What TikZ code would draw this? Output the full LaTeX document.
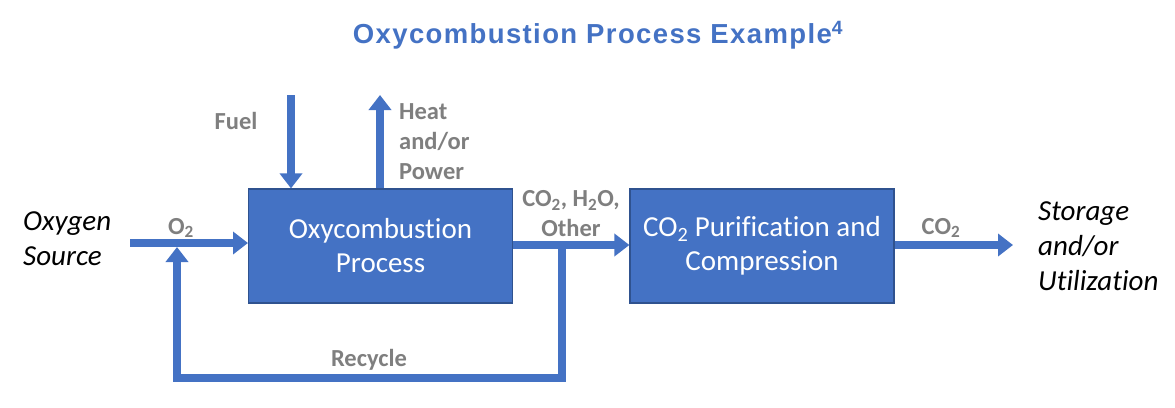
\documentclass[tikz,border=0pt]{standalone}
\usepackage{fontspec}
\setmainfont[Ligatures=NoCommon]{Carlito}
\newfontfamily\titlefont[LetterSpace=5]{Liberation Sans}
\usetikzlibrary{arrows.meta}
\definecolor{cblue}{HTML}{4472C4}
\definecolor{cborder}{HTML}{2F528F}
\definecolor{cgray}{HTML}{7F7F7F}
\tikzset{
  procbox/.style={draw=cborder, line width=1.2pt, fill=cblue, text=white, minimum width=264pt, minimum height=114pt, align=center, inner sep=0pt, font=\fontsize{29}{34}\selectfont},
  flow/.style={draw=cblue, line width=7.5pt, -{Triangle[width=22pt,length=15pt]}},
  glabel/.style={text=cgray, font=\fontsize{24.5}{30}\selectfont\bfseries, inner sep=0pt},
  ilabel/.style={text=black, font=\fontsize{29}{35}\selectfont\itshape, inner sep=0pt, align=left},
}
\begin{document}
\begin{tikzpicture}[x=1pt,y=-1pt]
\useasboundingbox (0,0) rectangle (1175,407);
\node[text=cblue, font=\titlefont\fontsize{27.5}{30}\selectfont\bfseries, inner sep=0pt] (title) at (598,35) {Oxycombustion Process Example\textsuperscript{4}};
\node[procbox] (b1) at (380.5,246) {Oxycombustion\\Process};
\node[procbox] (b2) at (762,246) {CO\textsubscript{2} Purification and\\Compression};
\coordinate (fuelTop) at (291,95);
\coordinate (heatTop) at (380,95);
\coordinate (o2start) at (130,243);
\coordinate (o2end) at (248,243);
\coordinate (split) at (562,245);
\coordinate (recBR) at (562,378);
\coordinate (recBL) at (177,378);
\coordinate (recTip) at (177,247);
\coordinate (outEnd) at (1013,245);
\draw[flow] (fuelTop) -- (fuelTop |- b1.north);
\draw[flow] (heatTop |- b1.north) -- (heatTop);
\draw[flow] (o2start) -- (o2end);
\draw[flow] (b1.east |- split) -- (b2.west |- split);
\draw[flow] (b2.east |- outEnd) -- (outEnd);
\draw[flow] (split) -- (recBR) -- (recBL) -- (recTip);
\node[glabel] (fuel) at (236,121) {Fuel};
\node[glabel, anchor=west, align=left] (heat) at (399,142) {Heat\\and/or\\Power};
\node[glabel] (o2) at (181,228) {O\textsubscript{2}};
\node[glabel, align=center] (mix) at (571,214) {CO\textsubscript{2}, H\textsubscript{2}O,\\Other};
\node[glabel] (rec) at (369,360) {Recycle};
\node[glabel] (co2) at (941,228) {CO\textsubscript{2}};
\node[ilabel, anchor=west] (src) at (23,239) {Oxygen\\Source};
\node[ilabel, anchor=west] (stor) at (1038,246) {Storage\\and/or\\Utilization};
\end{tikzpicture}
\end{document}
